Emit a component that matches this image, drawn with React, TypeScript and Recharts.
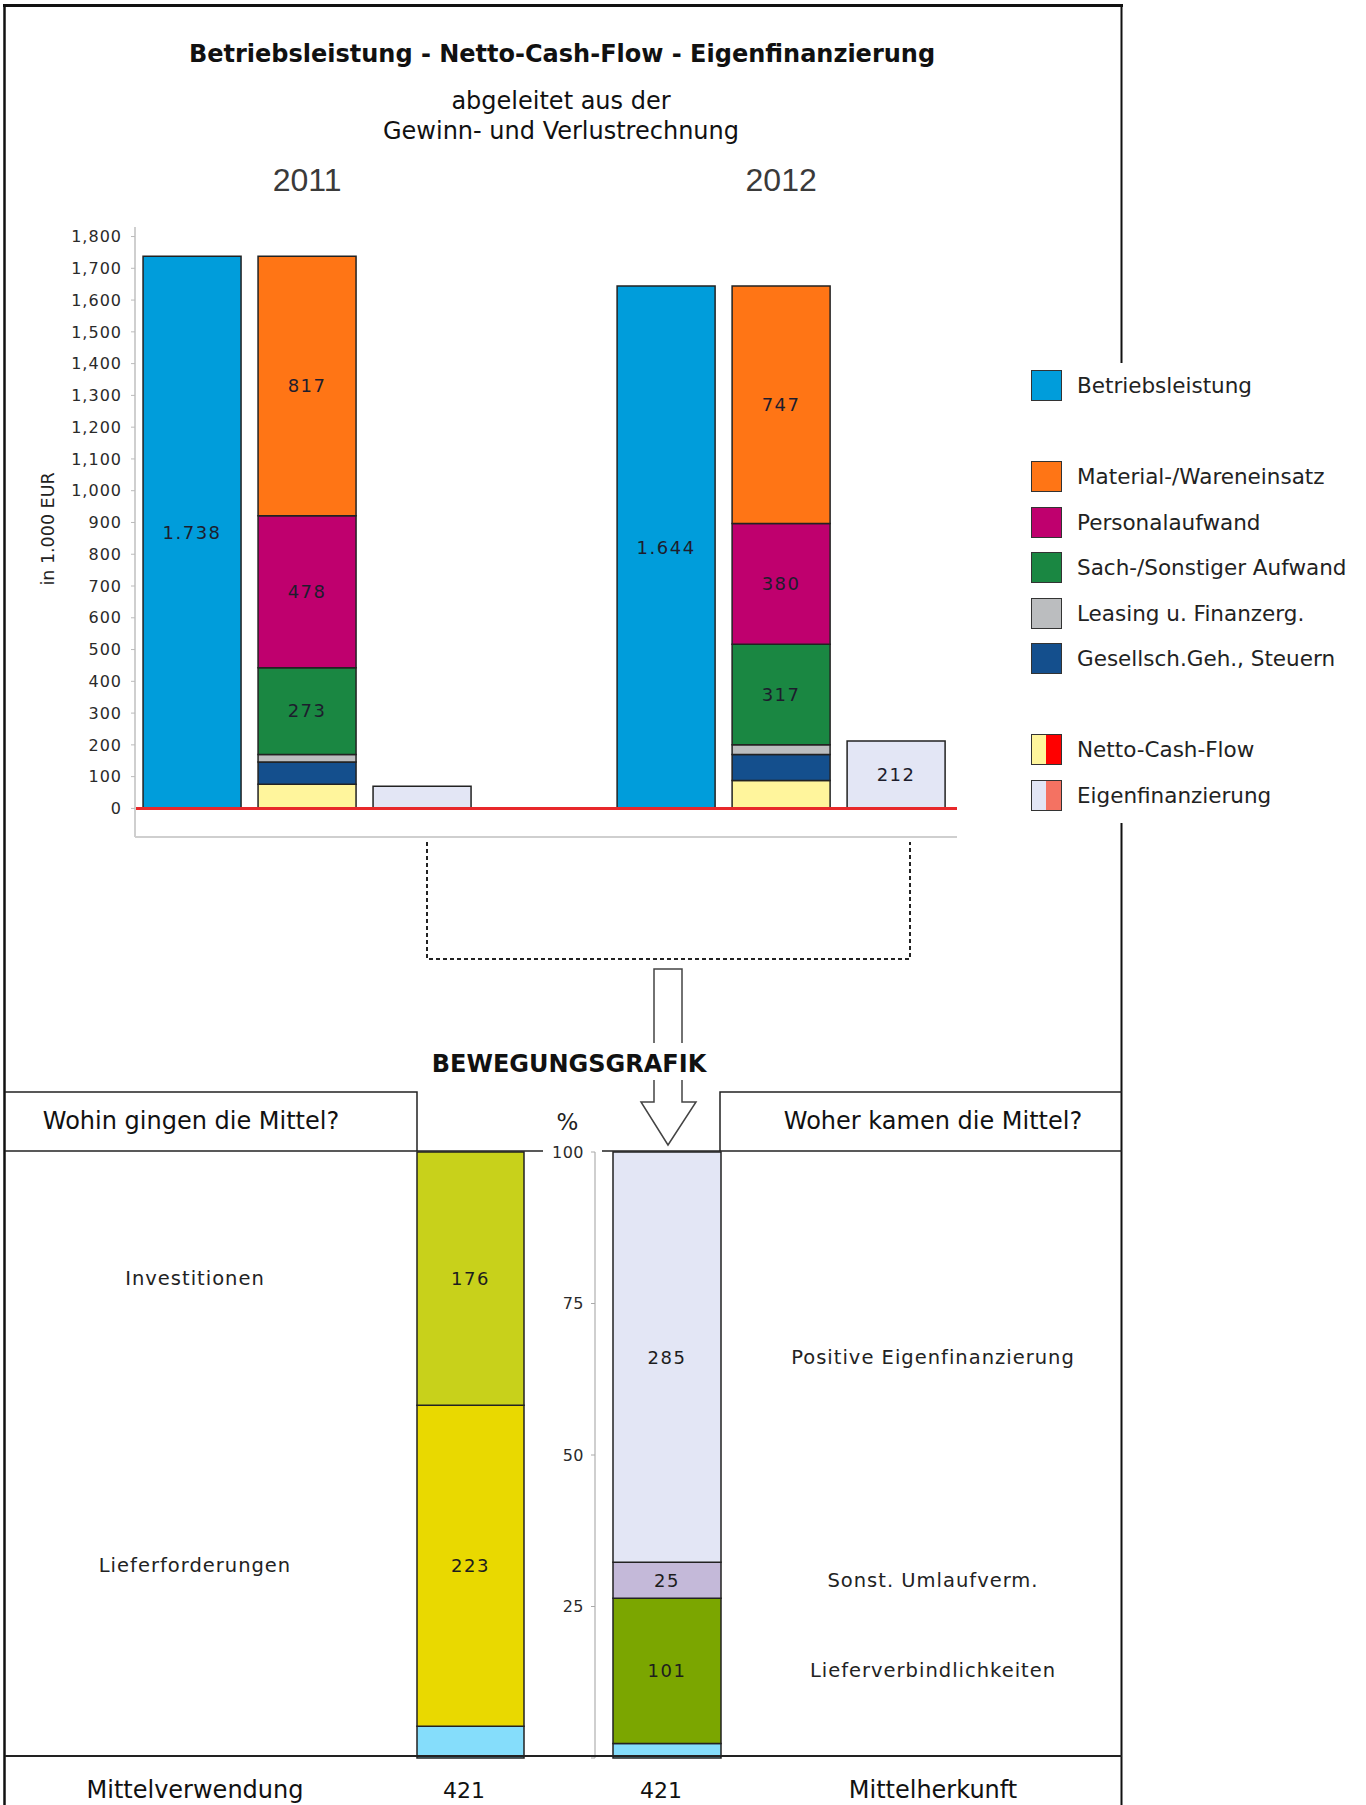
import React from 'react';
import { BarChart, Bar, XAxis, YAxis, ReferenceLine, LabelList, Legend } from 'recharts';

// --- upper chart: Betriebsleistung / Aufwand / Eigenfinanzierung (in 1.000 EUR)
const YEARS = [2011, 2012];
const BETRIEBSLEISTUNG = [1738, 1644];
const MATERIAL = [817, 747];
const PERSONAL = [478, 380];
const SACH = [273, 317];
const LEASING = [24, 30];
const GESELLSCH = [70, 82];
const NETTO_CASH_FLOW = [76, 88];
const EIGENFINANZIERUNG = [70, 212];
const Y_TICKS = [0, 100, 200, 300, 400, 500, 600, 700, 800, 900, 1000, 1100, 1200, 1300, 1400, 1500, 1600, 1700, 1800];

// --- lower chart: Bewegungsgrafik
const VERWENDUNG_NAMES = ['Investitionen', 'Lieferforderungen', ''];
const VERWENDUNG_VALUES = [176, 223, 22];
const HERKUNFT_NAMES = ['Positive Eigenfinanzierung', 'Sonst. Umlaufverm.', 'Lieferverbindlichkeiten', ''];
const HERKUNFT_VALUES = [285, 25, 101, 10];
const PCT_TICKS = [0, 25, 50, 75, 100];

const SERIES = [
  { key: 'betrieb', name: 'Betriebsleistung', values: BETRIEBSLEISTUNG, color: '#009ddb', stack: 'b' },
  { key: 'ncf', name: 'Netto-Cash-Flow', values: NETTO_CASH_FLOW, color: '#fff59c', stack: 'k', neg: '#ff0000' },
  { key: 'gesellsch', name: 'Gesellsch.Geh., Steuern', values: GESELLSCH, color: '#144f8d', stack: 'k' },
  { key: 'leasing', name: 'Leasing u. Finanzerg.', values: LEASING, color: '#bbbdbf', stack: 'k' },
  { key: 'sach', name: 'Sach-/Sonstiger Aufwand', values: SACH, color: '#1a8742', stack: 'k' },
  { key: 'personal', name: 'Personalaufwand', values: PERSONAL, color: '#bf006e', stack: 'k' },
  { key: 'material', name: 'Material-/Wareneinsatz', values: MATERIAL, color: '#ff7515', stack: 'k' },
  { key: 'eigen', name: 'Eigenfinanzierung', values: EIGENFINANZIERUNG, color: '#e3e6f5', stack: 'e', neg: '#f47262' },
];

const VERWENDUNG_COLORS = ['#c8d11b', '#e9d900', '#85ddfb'];
const HERKUNFT_COLORS = ['#e3e6f5', '#c4b9d9', '#7ba600', '#85ddfb'];

const LEGEND_ROWS = ['betrieb', '', 'material', 'personal', 'sach', 'leasing', 'gesellsch', '', 'ncf', 'eigen'];
const X_DOMAIN = [2010.637, 2012.371];
const FONT = '"DejaVu Sans", Verdana, sans-serif';

const topData = YEARS.map((year, i) => {
  const row: any = { year };
  SERIES.forEach((s) => { row[s.key] = s.values[i]; });
  return row;
});

const verwRow: any = { name: 'Mittelverwendung' };
VERWENDUNG_VALUES.forEach((v, i) => { verwRow[`v${i}`] = v; });
const herkRow: any = { name: 'Mittelherkunft' };
HERKUNFT_VALUES.forEach((v, i) => { herkRow[`h${i}`] = v; });

const sum = (a: number[]) => a.reduce((s, v) => s + v, 0);
const thousands = (v: number, sep: string) => String(v).replace(/\B(?=(\d{3})+(?!\d))/g, sep);
const barLabel = (v: any) => (v >= 100 ? thousands(v, '.') : '');

const YearTick = (props: any) => {
  const { x, y, payload } = props;
  return (
    <text x={x} y={y - 47} textAnchor="middle" dominantBaseline="central" fontSize={32}
      fontFamily='"Liberation Sans", Arial, sans-serif' fill="#3a3a3a">
      {payload.value}
    </text>
  );
};

const YLabel = (props: any) => {
  const vb = props.viewBox || {};
  const cy = vb.y + vb.height / 2 - 3;
  return (
    <text x={48} y={cy} transform={`rotate(-90, 48, ${cy})`} textAnchor="middle"
      dominantBaseline="central" fontSize={17.5} fill="#222">
      in 1.000 EUR
    </text>
  );
};

const Swatch = ({ color, neg }: { color: string; neg?: string }) => (
  <div style={{
    width: 31, height: 31, boxSizing: 'border-box', border: '1.5px solid #333', flex: 'none',
    background: neg ? `linear-gradient(to right, ${color} 50%, ${neg} 50%)` : color,
  }} />
);

const renderLegend = (props: any) => {
  const payload = props.payload || [];
  return (
    <div style={{ fontFamily: FONT }}>
      {LEGEND_ROWS.map((k, i) => {
        const item = payload.find((p: any) => p.dataKey === k);
        if (!item) return <div key={i} style={{ height: 45.5 }} />;
        const s = SERIES.find((x) => x.key === k);
        return (
          <div key={i} style={{ height: 45.5, display: 'flex', alignItems: 'center', whiteSpace: 'nowrap' }}>
            <Swatch color={item.color} neg={s?.neg} />
            <span style={{ marginLeft: 15, fontSize: 21.5, color: '#222' }}>{item.value}</span>
          </div>
        );
      })}
    </div>
  );
};

const makeTotalTick = (total: number, nameX: number) => (props: any) => {
  const { x, y, payload } = props;
  return (
    <g fontSize={24} fill="#111">
      <text x={x - 6} y={y + 32} textAnchor="middle" dominantBaseline="central" fontSize={22}>{total}</text>
      <text x={nameX} y={y + 32} textAnchor="middle" dominantBaseline="central">{payload.value}</text>
    </g>
  );
};

const makeSideLabel = (name: string, nameX: number) => (props: any) => {
  const vb = props.viewBox || props;
  const cy = vb.y + vb.height / 2;
  return (
    <text x={nameX} y={cy} textAnchor="middle" dominantBaseline="central" fontSize={19.5}
      letterSpacing={1} fill="#222">
      {name}
    </text>
  );
};

const segmentBars = (prefix: string, names: string[], colors: string[], nameX: number) =>
  names.map((_, idx) => names.length - 1 - idx).map((i) => {
    const key = `${prefix}${i}`;
    const labels = names[i]
      ? [
          <LabelList key="v" dataKey={key} position="center" fill="#1d1d1d" fontSize={18} letterSpacing={1.5} />,
          <LabelList key="n" dataKey={key} content={makeSideLabel(names[i], nameX)} />,
        ]
      : null;
    return (
      <Bar key={key} dataKey={key} stackId="a" fill={colors[i]} stroke="#222" strokeWidth={1.5}
        isAnimationActive={false}>
        {labels}
      </Bar>
    );
  });

export default function App() {
  return (
    <div style={{ position: 'relative', width: 1366, height: 1805, background: '#fff', fontFamily: FONT, overflow: 'hidden' }}>
      <style>{'body{margin:0}'}</style>

      <div style={{ position: 'absolute', left: 0, top: 140 }}>
        <BarChart width={1366} height={700} data={topData} margin={{ top: 0, right: 409, bottom: 2, left: 0 }}
          barGap={17} barSize={98}>
          <XAxis xAxisId="top" orientation="top" dataKey="year" type="number" domain={X_DOMAIN}
            allowDataOverflow ticks={YEARS} interval={0} height={87} axisLine={false} tickLine={false}
            tickSize={0} tickMargin={0} tick={<YearTick />} />
          <XAxis xAxisId="bottom" orientation="bottom" dataKey="year" type="number" domain={X_DOMAIN}
            allowDataOverflow height={1} tick={false} tickLine={false}
            axisLine={{ stroke: '#cfcfcf', strokeWidth: 2 }} />
          <YAxis width={135} domain={[-90, 1830]} allowDataOverflow ticks={Y_TICKS} interval={0}
            tickFormatter={(v: number) => thousands(v, ',')}
            tick={{ fontSize: 16, fill: '#2a2a2a', letterSpacing: 1 }} tickSize={4} tickMargin={9}
            axisLine={{ stroke: '#cfcfcf', strokeWidth: 2 }} tickLine={{ stroke: '#bbb' }}
            label={{ content: <YLabel /> }} />
          <ReferenceLine xAxisId="top" y={0} stroke="#e8282a" strokeWidth={3} />
          {SERIES.map((s) => (
            <Bar key={s.key} xAxisId="top" dataKey={s.key} name={s.name} stackId={s.stack} fill={s.color}
              stroke="#222" strokeWidth={1.5} isAnimationActive={false}>
              <LabelList dataKey={s.key} position="center" formatter={barLabel} fill="#1d1d2d"
                fontSize={18} letterSpacing={1.5} />
            </Bar>
          ))}
          <Legend content={renderLegend} layout="vertical" align="center" verticalAlign="middle"
            wrapperStyle={{ position: 'absolute', left: 1031, top: 223, width: 330 }} />
        </BarChart>
      </div>

      <div style={{ position: 'absolute', left: 6, top: 1090 }}>
        <BarChart width={554} height={715} data={[verwRow]} margin={{ top: 62, right: 18, bottom: 0, left: 392 }}
          stackOffset="expand" barSize={107} barCategoryGap={0}>
          <XAxis dataKey="name" height={47} axisLine={false} tickLine={false} tickSize={0} tickMargin={0}
            interval={0} tick={makeTotalTick(sum(VERWENDUNG_VALUES), 189)} />
          <YAxis hide domain={[0, 1]} />
          {segmentBars('v', VERWENDUNG_NAMES, VERWENDUNG_COLORS, 189)}
        </BarChart>
      </div>

      <div style={{ position: 'absolute', left: 540, top: 1090 }}>
        <BarChart width={582} height={715} data={[herkRow]} margin={{ top: 62, right: 383, bottom: 0, left: 0 }}
          stackOffset="expand" barSize={108} barCategoryGap={0}>
          <XAxis dataKey="name" height={47} axisLine={false} tickLine={false} tickSize={0} tickMargin={0}
            interval={0} tick={makeTotalTick(sum(HERKUNFT_VALUES), 393)} />
          <YAxis width={55} domain={[0, 1]} ticks={PCT_TICKS.map((t) => t / 100)} interval={0}
            tickFormatter={(v: number) => (v === 0 ? '' : String(Math.round(v * 100)))}
            tick={{ fontSize: 16, fill: '#2a2a2a', letterSpacing: 0.5 }} tickSize={4} tickMargin={7}
            axisLine={{ stroke: '#cfcfcf', strokeWidth: 2 }} tickLine={{ stroke: '#aaa' }}
            label={{ value: '%', position: 'top', offset: 22, fontSize: 23, fill: '#222' }} />
          {segmentBars('h', HERKUNFT_NAMES, HERKUNFT_COLORS, 393)}
        </BarChart>
      </div>

      <svg width={1366} height={1805} style={{ position: 'absolute', left: 0, top: 0, pointerEvents: 'none' }}
        fontFamily={FONT}>
        {/* frame */}
        <line x1={3} y1={5.5} x2={1123} y2={5.5} stroke="#111" strokeWidth={3} />
        <line x1={4.5} y1={4} x2={4.5} y2={1805} stroke="#111" strokeWidth={2.5} />
        <line x1={1121.5} y1={4} x2={1121.5} y2={363} stroke="#111" strokeWidth={2} />
        <line x1={1121.5} y1={823} x2={1121.5} y2={1805} stroke="#111" strokeWidth={2} />

        <text x={562} y={54} textAnchor="middle" dominantBaseline="central" fontSize={24} fontWeight="bold" fill="#111">
          Betriebsleistung - Netto-Cash-Flow - Eigenfinanzierung
        </text>
        <text x={561} y={101} textAnchor="middle" dominantBaseline="central" fontSize={24} fill="#111">
          abgeleitet aus der
        </text>
        <text x={561} y={131} textAnchor="middle" dominantBaseline="central" fontSize={24} fill="#111">
          Gewinn- und Verlustrechnung
        </text>

        {/* dotted bracket */}
        <path d="M427,842 V959 H910 V842" fill="none" stroke="#222" strokeWidth={2} strokeDasharray="4 3" />

        {/* arrow */}
        <path d="M654,1043 V969 H682 V1043" fill="none" stroke="#444" strokeWidth={1.5} />
        <path d="M654,1080 V1102 H641 L668,1145 L696,1102 H682 V1080" fill="none" stroke="#444" strokeWidth={1.5} />
        <text x={569} y={1064} textAnchor="middle" dominantBaseline="central" fontSize={24} fontWeight="bold" fill="#111">
          BEWEGUNGSGRAFIK
        </text>

        {/* table */}
        <path d="M5,1092 H417 V1151" fill="none" stroke="#222" strokeWidth={1.5} />
        <path d="M1122,1092 H720 V1151" fill="none" stroke="#222" strokeWidth={1.5} />
        <line x1={5} y1={1151} x2={543} y2={1151} stroke="#222" strokeWidth={1.5} />
        <line x1={602} y1={1151} x2={1122} y2={1151} stroke="#222" strokeWidth={1.5} />
        <line x1={5} y1={1756} x2={1122} y2={1756} stroke="#222" strokeWidth={2} />
        <text x={191} y={1121} textAnchor="middle" dominantBaseline="central" fontSize={24} fill="#111">
          Wohin gingen die Mittel?
        </text>
        <text x={933} y={1121} textAnchor="middle" dominantBaseline="central" fontSize={24} fill="#111">
          Woher kamen die Mittel?
        </text>
      </svg>
    </div>
  );
}
